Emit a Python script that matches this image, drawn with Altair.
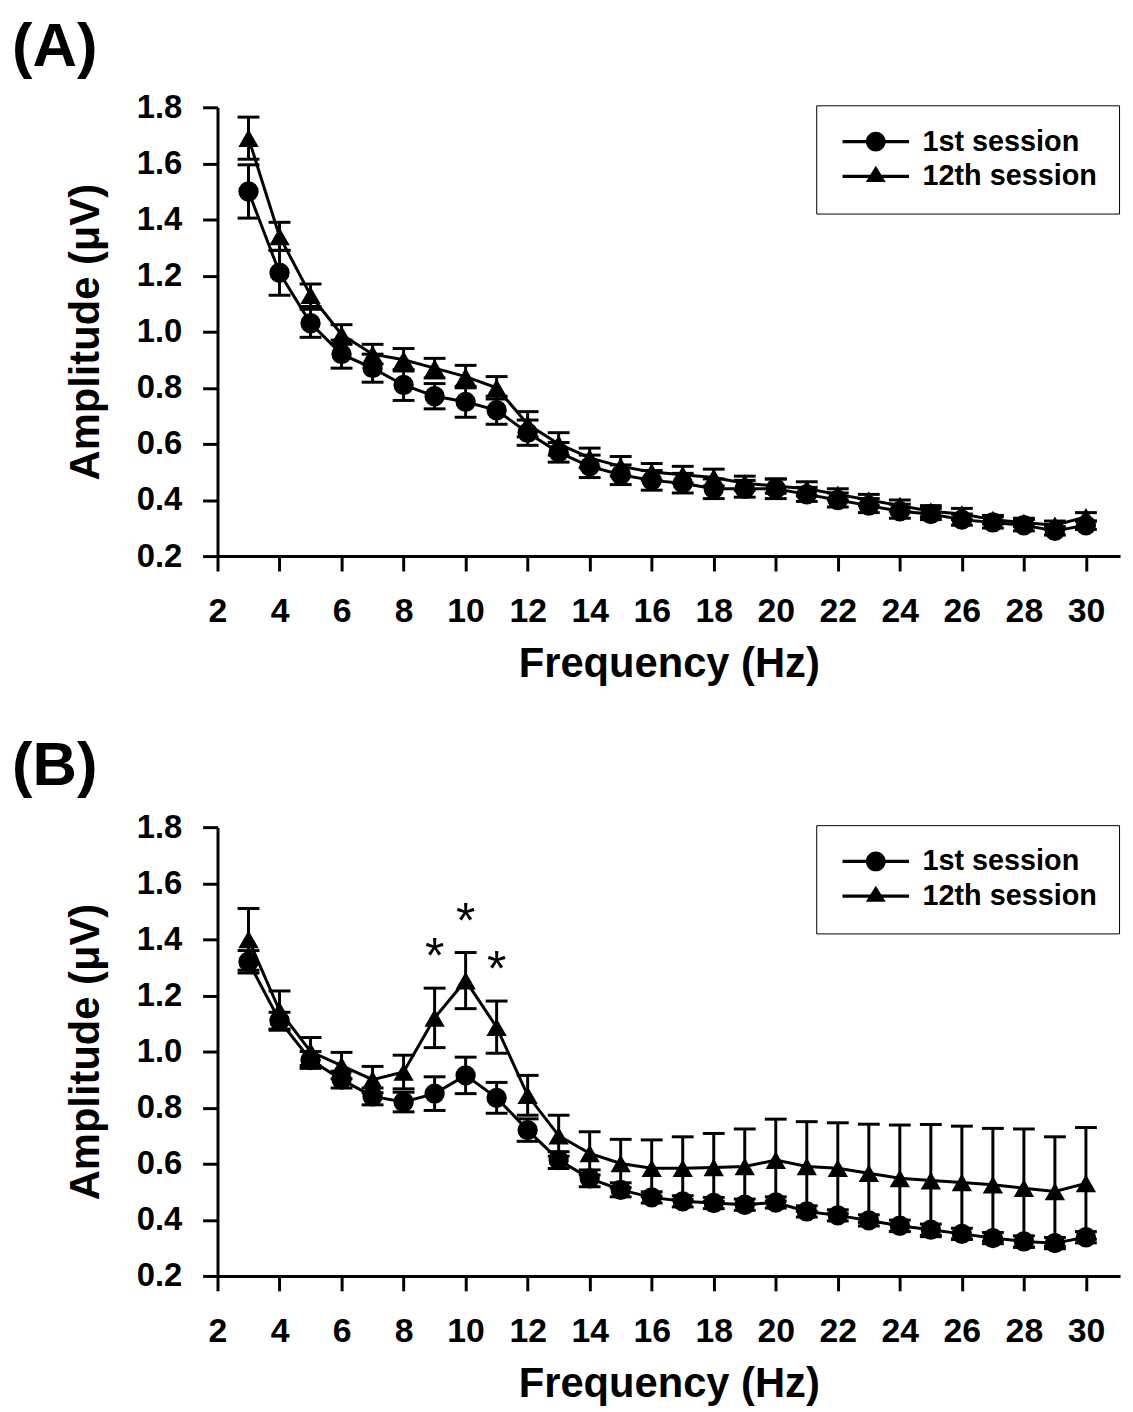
import altair as alt
import pandas as pd

FONT = "Liberation Sans"

freqs = list(range(3, 31))
sessions = ["1st session", "12th session"]

# Panel A
a_s1_mean = [1.50, 1.21, 1.03, 0.92, 0.87, 0.81, 0.77, 0.75, 0.72, 0.64, 0.57, 0.52, 0.49, 0.47,
             0.46, 0.44, 0.44, 0.44, 0.42, 0.40, 0.38, 0.36, 0.35, 0.33, 0.32, 0.31, 0.29, 0.31]
a_s1_se = [0.095, 0.08, 0.05, 0.05, 0.05, 0.055, 0.045, 0.055, 0.05, 0.045, 0.035, 0.04, 0.035, 0.035,
           0.035, 0.035, 0.03, 0.035, 0.025, 0.025, 0.025, 0.025, 0.02, 0.02, 0.02, 0.02, 0.015, 0.015]
a_s12_mean = [1.69, 1.34, 1.13, 0.99, 0.92, 0.90, 0.87, 0.84, 0.80, 0.67, 0.60, 0.55, 0.52, 0.50,
              0.49, 0.48, 0.46, 0.45, 0.44, 0.42, 0.40, 0.38, 0.36, 0.35, 0.33, 0.32, 0.31, 0.34]
a_s12_se = [0.075, 0.05, 0.04, 0.035, 0.035, 0.04, 0.035, 0.04, 0.04, 0.045, 0.04, 0.035, 0.035, 0.03,
            0.03, 0.03, 0.025, 0.025, 0.025, 0.02, 0.02, 0.02, 0.02, 0.02, 0.015, 0.015, 0.015, 0.015]

# Panel B
b_s1_mean = [1.32, 1.11, 0.97, 0.90, 0.84, 0.82, 0.85, 0.915, 0.835, 0.72, 0.613, 0.548, 0.507, 0.48,
             0.466, 0.46, 0.454, 0.462, 0.43, 0.416, 0.398, 0.379, 0.365, 0.35, 0.335, 0.323, 0.317, 0.338]
b_s1_se = [0.04, 0.03, 0.03, 0.03, 0.03, 0.035, 0.06, 0.065, 0.055, 0.04, 0.03, 0.03, 0.025, 0.02,
           0.02, 0.02, 0.02, 0.02, 0.02, 0.02, 0.02, 0.02, 0.02, 0.02, 0.02, 0.02, 0.02, 0.02]
b_s12_mean = [1.40, 1.146, 1.00, 0.95, 0.90, 0.927, 1.12, 1.253, 1.087, 0.844, 0.70, 0.637, 0.601, 0.584,
              0.584, 0.587, 0.59, 0.613, 0.59, 0.584, 0.566, 0.548, 0.54, 0.533, 0.525, 0.513, 0.501, 0.53]
b_s12_se = [0.11, 0.07, 0.05, 0.047, 0.047, 0.06, 0.106, 0.10, 0.093, 0.071, 0.073, 0.077, 0.086, 0.101,
            0.112, 0.121, 0.134, 0.146, 0.16, 0.162, 0.175, 0.19, 0.20, 0.201, 0.201, 0.211, 0.195, 0.199]

b_star_freqs = [9, 10, 11]

x_ticks = list(range(2, 31, 2))
y_ticks = [0.2, 0.4, 0.6, 0.8, 1.0, 1.2, 1.4, 1.6, 1.8]

# legend glyphs: a short horizontal bar with the marker on it (all sub-paths clockwise)
LEG_CIRCLE = ("M-1,-0.16H5.7V0.16H-1Z"
              "M1.35,0A1,1 0 1,1 3.35,0A1,1 0 1,1 1.35,0Z")
LEG_TRI = ("M-1,-0.16H5.7V0.16H-1Z"
           "M2.35,-1.06L3.35,0.56L1.35,0.56Z")


def build_df(m1, e1, m12, e12):
    rows = []
    for s, ms, es in ((sessions[0], m1, e1), (sessions[1], m12, e12)):
        for f, m, e in zip(freqs, ms, es):
            rows.append(dict(freq=f, session=s, mean=m, lo=m - e, hi=m + e))
    return pd.DataFrame(rows)


xscale = alt.Scale(domain=[2, 31.1], nice=False, zero=False)
yscale = alt.Scale(domain=[0.2, 1.8], nice=False, zero=False)
xaxis = alt.Axis(values=x_ticks, title="Frequency (Hz)", labelFlush=False)
yaxis = alt.Axis(values=y_ticks, format=".1f", title="Amplitude (\u03bcV)", labelFlush=False)


def xenc():
    return alt.X("freq:Q", scale=xscale, axis=xaxis)


def yenc(field):
    return alt.Y(field, scale=yscale, axis=yaxis)


def panel(label, df, stars):
    base = alt.Chart(df)
    rules = base.mark_rule(color="black", strokeWidth=3, opacity=1).encode(
        x=xenc(), y=yenc("lo:Q"), y2="hi:Q")
    cap_lo = base.mark_tick(orient="horizontal", size=22, thickness=3, color="black", opacity=1).encode(
        x=xenc(), y=yenc("lo:Q"))
    cap_hi = base.mark_tick(orient="horizontal", size=22, thickness=3, color="black", opacity=1).encode(
        x=xenc(), y=yenc("hi:Q"))
    lines = base.mark_line(color="black", strokeWidth=3).encode(
        x=xenc(), y=yenc("mean:Q"), detail="session:N")
    points = base.mark_point(filled=True, opacity=1, size=420, color="black").encode(
        x=xenc(), y=yenc("mean:Q"),
        shape=alt.Shape("session:N", scale=alt.Scale(domain=sessions, range=["circle", "triangle-up"]),
                        legend=None))
    legend_layer = base.transform_filter("datum.freq < 0").mark_point(
        filled=True, opacity=1, size=400, color="black").encode(
        x=xenc(), y=yenc("mean:Q"),
        shape=alt.Shape("session:N", scale=alt.Scale(domain=sessions, range=[LEG_CIRCLE, LEG_TRI]),
                        legend=alt.Legend(title=None, orient="none", legendX=603, legendY=-2,
                                          labelFont=FONT, labelFontSize=29, labelFontWeight="bold",
                                          labelColor="black", labelLimit=400,
                                          strokeColor="black", fillColor="white",
                                          padding=22, rowPadding=5, symbolSize=400, labelOffset=56,
                                          symbolStrokeWidth=0, symbolFillColor="black",
                                          symbolOpacity=1)))
    layers = [rules, cap_lo, cap_hi, lines, points, legend_layer]
    if stars:
        sdf = df[(df.session == sessions[1]) & (df.freq.isin(stars))]
        star_layer = alt.Chart(sdf).mark_text(text="*", fontSize=50, font=FONT, dy=-15,
                                              baseline="alphabetic", color="black").encode(
            x=xenc(), y=yenc("hi:Q"))
        layers.append(star_layer)
    return alt.layer(*layers).resolve_scale(shape="independent").properties(
        width=909, height=452,
        title=alt.TitleParams(text=label, anchor="start", frame="group", dx=-207, dy=64, offset=28,
                              fontSize=62, font=FONT, fontWeight="bold", color="black",
                              baseline="alphabetic"))


pA = panel("(A)", build_df(a_s1_mean, a_s1_se, a_s12_mean, a_s12_se), None)
pB = panel("(B)", build_df(b_s1_mean, b_s1_se, b_s12_mean, b_s12_se), b_star_freqs)

chart = alt.vconcat(pA, pB, spacing=52).properties(
    padding={"left": 4, "top": 3, "right": 5, "bottom": 2},
    background="white",
).configure_view(stroke=None).configure_axis(
    domainColor="black", domainWidth=3, tickColor="black", tickWidth=3, tickSize=15,
    grid=False, labelFont=FONT, labelFontWeight="bold", labelColor="black",
    titleFont=FONT, titleFontWeight="bold", titleColor="black", titleFontSize=42,
).configure_axisX(labelFontSize=34, labelPadding=24, titlePadding=15
).configure_axisY(labelFontSize=33, labelPadding=21, titlePadding=29)

chart.save("out.html", embed_options={"renderer": "svg", "actions": False})
